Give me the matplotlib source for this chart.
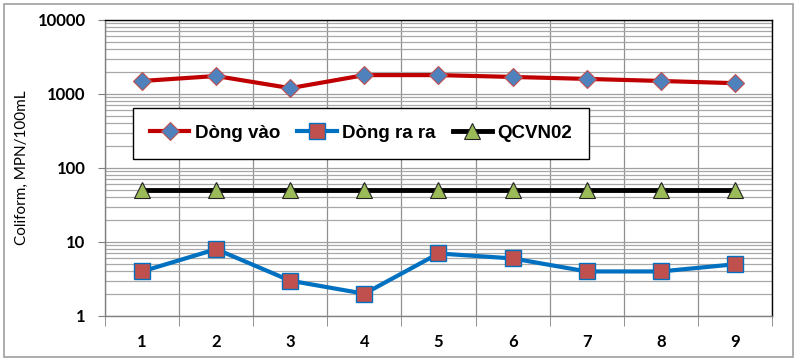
import matplotlib.pyplot as plt
from matplotlib.patches import Rectangle
from matplotlib.ticker import FixedLocator, LogLocator, NullFormatter

samples = [1, 2, 3, 4, 5, 6, 7, 8, 9]
dong_vao = [1500, 1750, 1200, 1800, 1800, 1700, 1600, 1500, 1400]
dong_ra = [4, 8, 3, 2, 7, 6, 4, 4, 5]
qcvn02 = [50, 50, 50, 50, 50, 50, 50, 50, 50]
y_ticks = [1, 10, 100, 1000, 10000]
y_tick_labels = ["1", "10", "100", "1000", "10000"]

fig = plt.figure(figsize=(7.97, 3.61), dpi=100)
ax = fig.add_axes([105 / 797, 45 / 361, 667 / 797, 296 / 361])

ax.set_yscale("log")
ax.set_ylim(1, 10000)
ax.set_xlim(0.5, 9.5)

# grid: minor horizontal lines every log step, vertical lines between samples
ax.yaxis.set_major_locator(FixedLocator(y_ticks))
ax.yaxis.set_minor_locator(LogLocator(base=10, subs=range(2, 10)))
ax.yaxis.set_minor_formatter(NullFormatter())
ax.set_yticklabels(y_tick_labels)
ax.xaxis.set_major_locator(FixedLocator(samples))
ax.xaxis.set_minor_locator(FixedLocator([s + 0.5 for s in [0] + samples]))
ax.grid(True, which="major", axis="y", color="#a0a0a0", lw=0.9)
ax.grid(True, which="minor", axis="y", color="#a8a8a8", lw=0.9)
ax.grid(True, which="minor", axis="x", color="#909090", lw=0.9)
ax.set_axisbelow(True)

ax.tick_params(axis="y", which="minor", length=0)
ax.tick_params(axis="y", which="major", length=5, color="#808080", pad=9)
ax.tick_params(axis="x", which="major", length=0, pad=13)
ax.tick_params(axis="x", which="minor", length=7, color="#808080")
for lab in ax.get_yticklabels() + ax.get_xticklabels():
    lab.set_fontfamily("Lato")
    lab.set_fontweight("bold")
    lab.set_fontsize(12)

for side in ["top", "right"]:
    ax.spines[side].set_color("black")
    ax.spines[side].set_linewidth(1.0)
for side in ["left", "bottom"]:
    ax.spines[side].set_color("#808080")
    ax.spines[side].set_linewidth(1.0)

ax.plot(samples, dong_vao, color="#c00000", lw=3, marker="D", ms=9,
        mfc="#4f81bd", mec="#c0504d", mew=0.8, label="Dòng vào", zorder=3)
ax.plot(samples, dong_ra, color="#0070c0", lw=3, marker="s", ms=11,
        mfc="#c0504d", mec="#0070c0", mew=1.0, label="Dòng ra ra", zorder=3)
ax.plot(samples, qcvn02, color="black", lw=3.5, marker="^", ms=11,
        mfc="#9bbb59", mec="#222222", mew=0.8, label="QCVN02", zorder=3)

ax.set_ylabel("Coliform, MPN/100mL", fontsize=11, family="Lato", labelpad=6)

leg = ax.legend(loc="upper left", bbox_to_anchor=(28 / 667, 208 / 296), ncol=3,
                frameon=True, fancybox=False, edgecolor="black", framealpha=1,
                prop={"family": "Liberation Sans", "weight": "bold", "size": 13.5},
                handlelength=2.1, handletextpad=0.3, columnspacing=0.9,
                borderpad=0.9, borderaxespad=0)
leg.get_frame().set_linewidth(1.0)

fig.patches.append(Rectangle((4 / 797, 4 / 361), 789 / 797, 353 / 361,
                             transform=fig.transFigure, fill=False,
                             edgecolor="#a0a0a0", lw=1.2))

fig.savefig("out.png", dpi=100)
